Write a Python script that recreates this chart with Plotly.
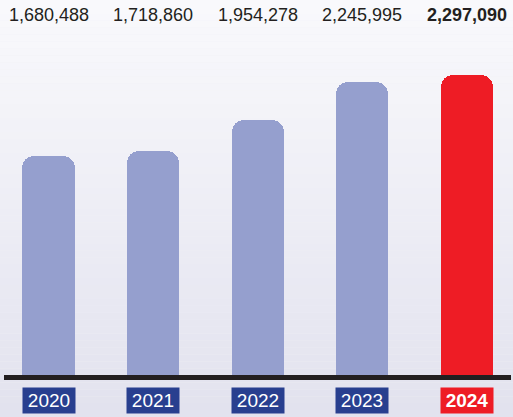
import plotly.graph_objects as go

years = ["2020", "2021", "2022", "2023", "2024"]
values = [1680488, 1718860, 1954278, 2245995, 2297090]
highlight = [False, False, False, False, True]

BAR = "#959fce"
RED = "#ee1c25"
NAVY = "#283f8f"

W, H = 513, 417
units_per_px = 7630
base_px = 376
y_min = -(H - base_px) * units_per_px
y_max = base_px * units_per_px

x_idx = list(range(len(years)))
spacing = 104.6
c0 = 48.5
x_lo = -c0 / spacing
x_hi = (W - c0) / spacing

fig = go.Figure()
fig.add_trace(go.Bar(
    x=x_idx, y=values, width=0.5,
    marker=dict(color=[RED if h else BAR for h in highlight], line=dict(width=0), cornerradius=12),
    hoverinfo="skip",
))

shapes = []
# background vertical gradient
n = 60
top = (249, 249, 252)
bot = (226, 226, 238)
for i in range(n):
    t = i / (n - 1)
    col = tuple(round(top[k] + (bot[k] - top[k]) * t) for k in range(3))
    shapes.append(dict(type="rect", xref="paper", yref="paper",
                       x0=0, x1=1, y0=1 - (i + 1) / n, y1=1 - i / n,
                       fillcolor="rgb(%d,%d,%d)" % col, line=dict(width=0), layer="below"))
# baseline
shapes.append(dict(type="line", xref="paper", yref="y", x0=4 / W, x1=511 / W, y0=-1.5 * units_per_px, y1=-1.5 * units_per_px,
                   line=dict(color="#231f20", width=5), layer="above"))

annotations = []
for i, (yr, v, h) in enumerate(zip(years, values, highlight)):
    txt = f"{v:,}"
    annotations.append(dict(
        x=i, xref="x", y=1 - 15 / H, yref="paper", yanchor="middle", showarrow=False,
        text=f"<b>{txt}</b>" if h else txt,
        font=dict(family="Liberation Sans, Arial, sans-serif", size=18, color="#231f20"),
    ))
    annotations.append(dict(
        x=i, xref="x", y=(H - 400.5) / H, yref="paper", yanchor="middle", showarrow=False,
        text=f"<b>{yr}</b>" if h else yr,
        width=49, height=22, borderpad=1.5,
        bgcolor=RED if h else NAVY,
        font=dict(family="Liberation Sans, Arial, sans-serif", size=19, color="white"),
    ))

fig.update_layout(
    width=W, height=H,
    margin=dict(l=0, r=0, t=0, b=0),
    paper_bgcolor="#f0f0f5", plot_bgcolor="rgba(0,0,0,0)",
    showlegend=False,
    xaxis=dict(range=[x_lo, x_hi], visible=False, fixedrange=True),
    yaxis=dict(range=[y_min, y_max], visible=False, fixedrange=True),
    shapes=shapes, annotations=annotations,
    bargap=0,
)

fig.write_html("out.html", config={"displayModeBar": False},
               post_script="document.body.style.margin='0';document.body.style.overflow='hidden';")
